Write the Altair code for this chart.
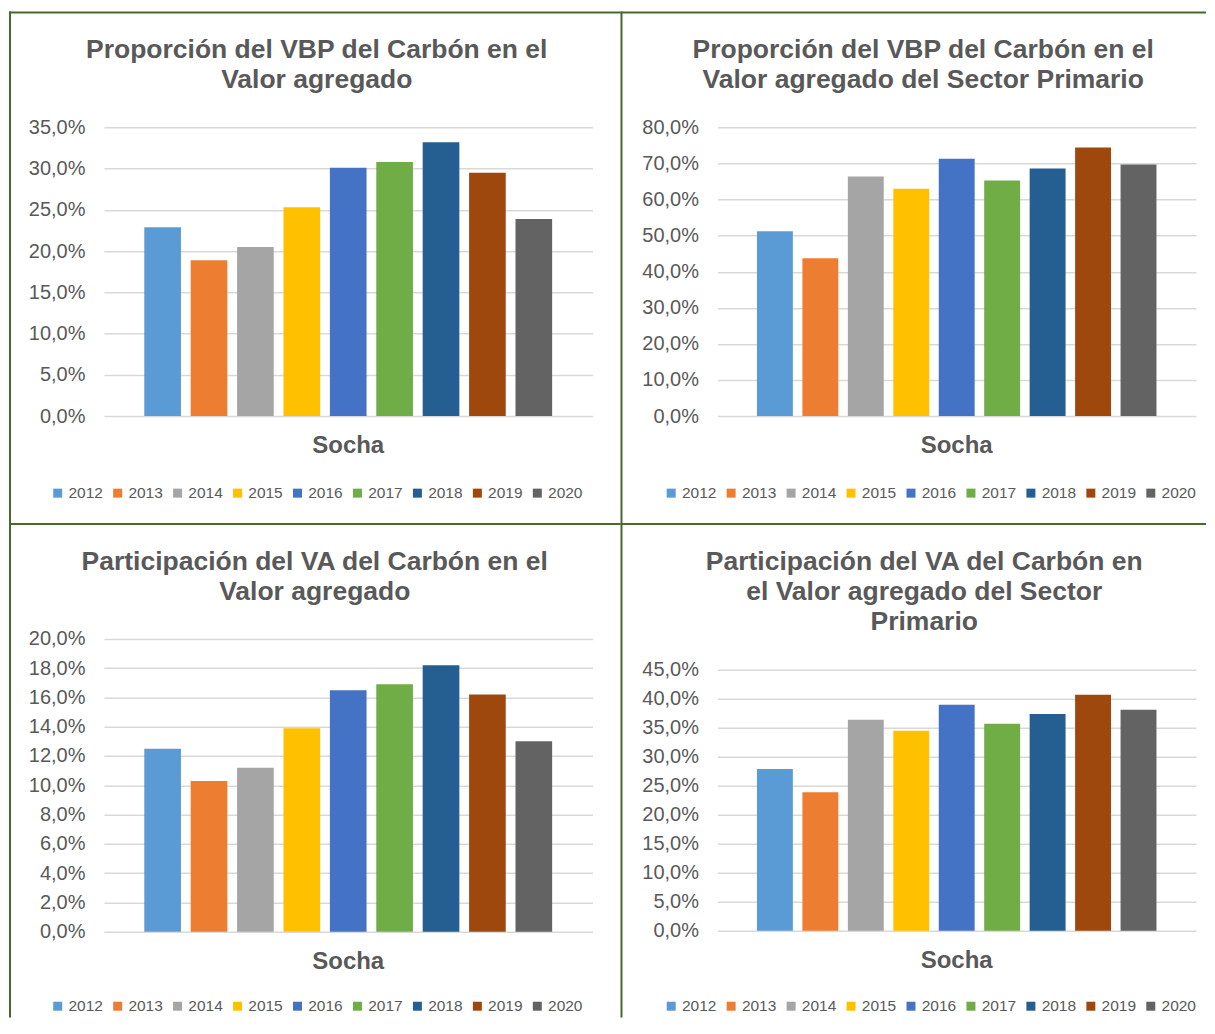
import altair as alt
import pandas as pd

FONT = "Liberation Sans"
TXT = "#595959"
BORDER = "#46692C"

years = ["2012", "2013", "2014", "2015", "2016", "2017", "2018", "2019", "2020"]
colors = ["#5B9BD5", "#ED7D31", "#A5A5A5", "#FFC000", "#4472C4",
          "#70AD47", "#255E91", "#9E480E", "#636363"]

vbp_va = [22.9, 18.9, 20.5, 25.3, 30.1, 30.8, 33.2, 29.5, 23.9]
vbp_primario = [51.2, 43.7, 66.4, 63.0, 71.3, 65.3, 68.6, 74.4, 69.7]
va_va = [12.5, 10.3, 11.2, 13.9, 16.5, 16.9, 18.2, 16.2, 13.0]
va_primario = [27.9, 23.9, 36.4, 34.5, 39.0, 35.7, 37.4, 40.7, 38.1]

title1 = ["Proporción del VBP del Carbón en el", "Valor agregado"]
title2 = ["Proporción del VBP del Carbón en el", "Valor agregado del Sector Primario"]
title3 = ["Participación del VA del Carbón en el", "Valor agregado"]
title4 = ["Participación del VA del Carbón en", "el Valor agregado del Sector", "Primario"]
category = "Socha"


def panel(values, title, ymax, ystep, W, H, ytop, L, R, T, B, tx, ty, lh, legy):
    df = pd.DataFrame({"year": years, "value": values})
    one = pd.DataFrame({"k": [0]})

    frame = alt.Chart(one).mark_rect(fill="white", fillOpacity=0, strokeOpacity=0).encode(
        x=alt.value(L), x2=alt.value(W + R), y=alt.value(T), y2=alt.value(H + B))
    left = alt.Chart(one).mark_rule(color=BORDER, strokeWidth=2).encode(
        x=alt.value(L + 1), y=alt.value(T), y2=alt.value(H + B))
    top = alt.Chart(one).mark_rule(color=BORDER, strokeWidth=2).encode(
        x=alt.value(L), x2=alt.value(W + R), y=alt.value(T + 1))

    bars = alt.Chart(df).mark_bar().encode(
        x=alt.X("year:N", sort=years, axis=None,
                scale=alt.Scale(paddingInner=0.21, paddingOuter=0.87)),
        y=alt.Y("value:Q",
                scale=alt.Scale(domain=[0, ymax], nice=False, zero=True, range=[H, ytop]),
                axis=alt.Axis(values=list(range(0, ymax + 1, ystep)), title=None,
                              domain=False, ticks=False, labelFontSize=20,
                              labelColor=TXT, labelFont=FONT, labelPadding=19,
                              gridColor="#D9D9D9", gridWidth=1.5,
                              labelExpr="replace(format(datum.value, '.1f'), '.', ',') + '%'")),
        color=alt.Color("year:N", sort=years,
                        scale=alt.Scale(domain=years, range=colors),
                        legend=alt.Legend(orient="none", legendX=-54, legendY=legy,
                                          direction="horizontal", columns=9, title=None,
                                          symbolType="square", symbolSize=81,
                                          symbolStrokeWidth=0, labelFontSize=15.5,
                                          labelColor=TXT, labelFont=FONT,
                                          columnPadding=7, labelOffset=3, padding=0)),
    )

    layers = [frame, bars]
    for i, line in enumerate(title):
        layers.append(
            alt.Chart(one).mark_text(align="center", baseline="alphabetic", fontSize=26.5,
                                     fontWeight="bold", color=TXT, font=FONT).encode(
                x=alt.value(tx), y=alt.value(ty + i * lh), text=alt.value(line)))
    layers.append(
        alt.Chart(one).mark_text(align="center", baseline="alphabetic", fontSize=24,
                                 fontWeight="bold", color=TXT, font=FONT).encode(
            x=alt.value(W / 2), y=alt.value(H + 37), text=alt.value(category)))
    layers += [left, top]
    return alt.layer(*layers).properties(width=W, height=H)


p1 = panel(vbp_va, title1, 35, 5, 489, 289, 0, -95, 28, -116, 107, 213, -69, 30, 358)
p2 = panel(vbp_primario, title2, 80, 10, 479, 289, 0, -97, 10, -116, 107, 206, -69, 30, 358)
p3 = panel(va_va, title3, 20, 2, 489, 293, 0, -95, 28, -116, 86, 211, -69, 30, 359.5)
p4 = panel(va_primario, title4, 45, 5, 479, 292, 31, -97, 10, -116, 87, 207, -69, 30, 359.5)

chart = alt.concat(
    p1, p2, p3, p4, columns=2, bounds="flush",
    spacing=alt.RowColnumber(row=223, column=125),
).resolve_scale(x="independent", y="independent", color="independent").resolve_legend(
    color="independent"
).properties(
    padding={"left": 0, "top": 2, "right": 0, "bottom": 0},
    background="white",
).configure(font=FONT).configure_view(strokeWidth=0, stroke="transparent")

chart.save("out.html", embed_options={"renderer": "svg", "actions": False})
